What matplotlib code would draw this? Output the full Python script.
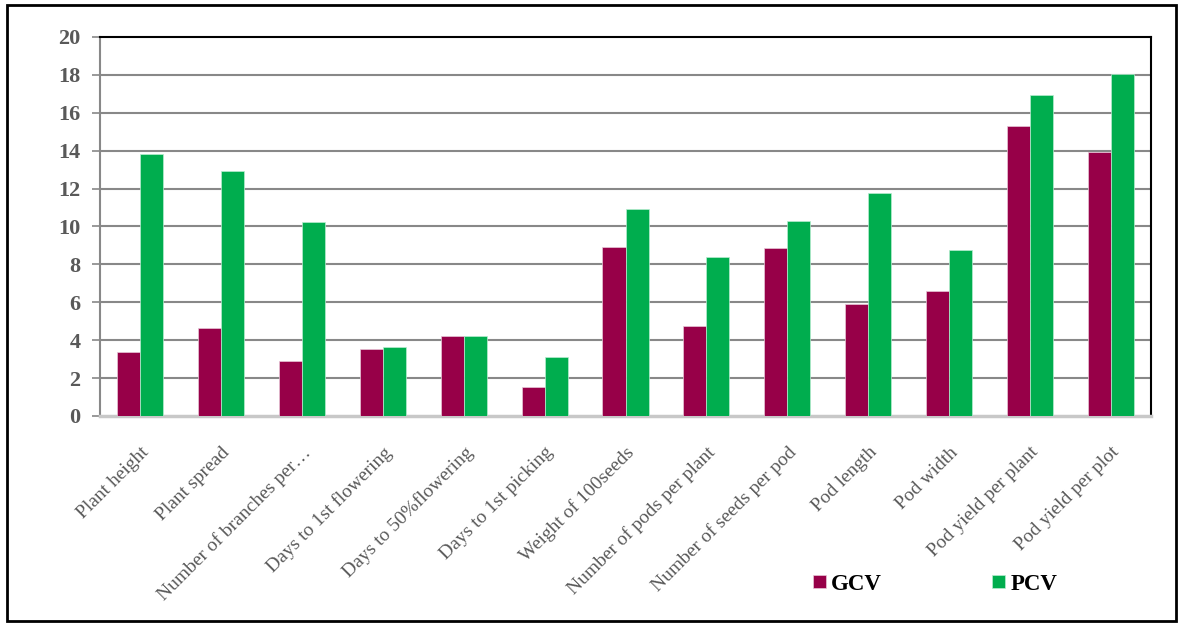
import numpy as np
import matplotlib
matplotlib.use("Agg")
import matplotlib.pyplot as plt
from matplotlib.patches import Rectangle

# Genotypic / phenotypic coefficients of variation per trait
traits = [
    "Plant height", "Plant spread", "Number of branches per\u2026",
    "Days to 1st flowering", "Days to 50%flowering", "Days to 1st picking",
    "Weight of 100seeds", "Number of pods per plant", "Number of seeds per pod",
    "Pod length", "Pod width", "Pod yield per plant", "Pod yield per plot",
]
gcv = [3.38, 4.64, 2.90, 3.54, 4.20, 1.53, 8.92, 4.75, 8.87, 5.90, 6.60, 15.30, 13.93]
pcv = [13.83, 12.93, 10.24, 3.64, 4.20, 3.11, 10.92, 8.40, 10.29, 11.77, 8.76, 16.94, 18.05]
yticks = [0, 2, 4, 6, 8, 10, 12, 14, 16, 18, 20]

GCV_COLOR = "#970048"
PCV_COLOR = "#00ad4e"
GREY = "#595959"

plt.rcParams["font.family"] = ["Liberation Serif", "DejaVu Serif"]

fig = plt.figure(figsize=(11.83, 6.26), dpi=100)
ax = fig.add_axes([0.0845, 0.3355, 0.8885, 0.6055])

x = np.arange(len(traits))
w = 0.285
ax.bar(x - w / 2, gcv, w, color=GCV_COLOR, edgecolor="#e8c8d8", linewidth=0.5,
       label="GCV", zorder=3)
ax.bar(x + w / 2, pcv, w, color=PCV_COLOR, edgecolor="#b8ecd0", linewidth=0.5,
       label="PCV", zorder=3)

ax.set_xlim(-0.5, len(traits) - 0.5)
ax.set_ylim(0, 20)
ax.set_yticks(yticks)
ax.set_yticklabels([str(t) for t in yticks], fontsize=16, fontweight="bold",
                   color=GREY)
ax.tick_params(axis="y", length=6, color="#888888", width=1.2, pad=8)
ax.set_xticks(x)
ax.set_xticklabels(traits, rotation=45, ha="right", rotation_mode="anchor",
                   fontsize=14, color=GREY)
ax.tick_params(axis="x", length=0, pad=20)

for t in yticks[1:-1]:
    ax.axhline(t, color="#888888", linewidth=1.5, zorder=1)

ax.spines["top"].set_color("black")
ax.spines["top"].set_linewidth(1.5)
ax.spines["right"].set_color("black")
ax.spines["right"].set_linewidth(1.5)
ax.spines["left"].set_color("#888888")
ax.spines["left"].set_linewidth(1.5)
ax.spines["bottom"].set_color("#c8c8c8")
ax.spines["bottom"].set_linewidth(2.5)

leg = fig.legend(loc="center", bbox_to_anchor=(0.7905, 0.067), ncol=2,
                 frameon=False, handlelength=0.55, handleheight=0.55,
                 columnspacing=4.8, handletextpad=0.25,
                 prop={"size": 16.5, "weight": "bold"})

fig.patches.append(Rectangle((0.006, 0.008), 0.988, 0.984, transform=fig.transFigure,
                             fill=False, edgecolor="black", linewidth=2))

fig.savefig("out.png", dpi=100)
